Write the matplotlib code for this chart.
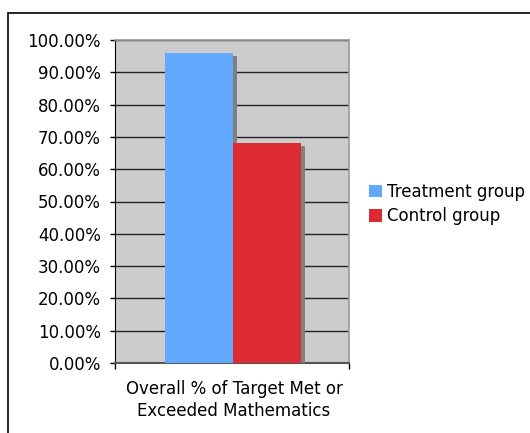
import matplotlib.pyplot as plt
import matplotlib.patheffects as pe
from matplotlib.patches import Rectangle, Patch

# data
groups = ["Treatment group", "Control group"]
values = [96.0, 68.1]
colors = ["#62A8FF", "#DD2B33"]
category = "Overall % of Target Met or\nExceeded Mathematics"

W, H = 530, 433
fig = plt.figure(figsize=(W / 100, H / 100), dpi=100)
fig.patch.set_facecolor("white")

# outer frame
fig.patches.append(Rectangle((8 / W, -0.1), 1.1, (H - 13) / H + 0.1,
                             transform=fig.transFigure, fill=False,
                             edgecolor="black", linewidth=1.2))

ax = fig.add_axes([115 / W, (H - 363) / H, 234 / W, 323 / H])
ax.set_facecolor("#CCCCCC")

bar_w = 68
centers = [165 + bar_w / 2, 233 + bar_w / 2]
shadow = [pe.SimplePatchShadow(offset=(2.8, -2.2), shadow_rgbFace="#808080", alpha=1), pe.Normal()]
for g, v, c, x in zip(groups, values, colors, centers):
    ax.bar(x, v, width=bar_w, color=c, zorder=3, path_effects=shadow)

ax.set_xlim(115, 349)
ax.set_ylim(0, 100)
ax.set_yticks(range(0, 101, 10))
ax.set_yticklabels([f"{t:.2f}%" for t in range(0, 101, 10)], fontsize=12)
ax.yaxis.grid(True, color="#222222", linewidth=1.0, zorder=1)
ax.set_axisbelow(True)
ax.tick_params(axis="y", length=3.6, width=1, color="black", pad=6.5)

ax.set_xticks([115, 349])
ax.set_xticklabels(["", ""])
ax.tick_params(axis="x", length=4, width=1, color="black")
ax.text(234, -5.3, category, ha="center", va="top", fontsize=12,
        transform=ax.transData, linespacing=1.3)

for s in ["top", "right"]:
    ax.spines[s].set_color("#999999")
    ax.spines[s].set_linewidth(1.2)
ax.spines["left"].set_color("black")
ax.spines["bottom"].set_color("#555555")
ax.spines["bottom"].set_linewidth(1.5)

handles = [Patch(facecolor=c) for c in colors]
fig.legend(handles, groups, loc="upper left", bbox_to_anchor=(362 / W, 1 - 176 / H),
           frameon=False, fontsize=12, handlelength=0.8, handleheight=0.8,
           handletextpad=0.3, labelspacing=0.4, borderaxespad=0)

fig.savefig("out.png", dpi=100)
